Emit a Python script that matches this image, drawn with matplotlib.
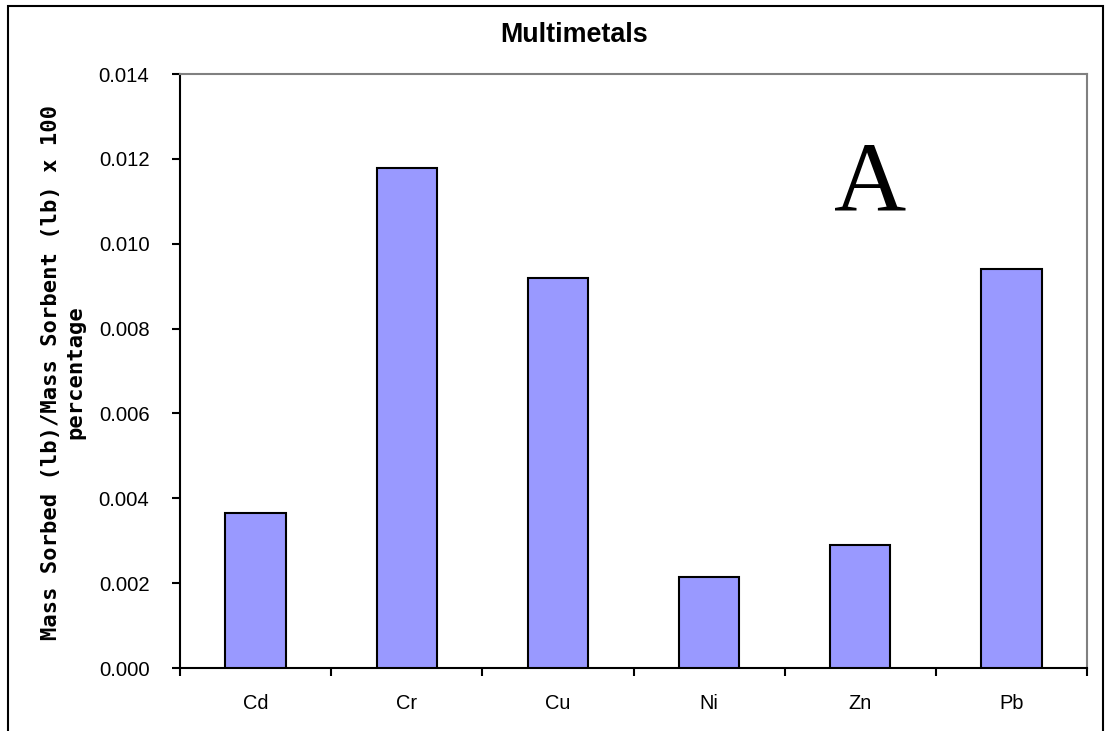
import matplotlib
matplotlib.use("Agg")
import matplotlib.pyplot as plt
from matplotlib.patches import Rectangle
import numpy as np

# valeurs
metals = ["Cd", "Cr", "Cu", "Ni", "Zn", "Pb"]
sorbed = [0.00366, 0.01178, 0.00919, 0.00214, 0.00291, 0.00941]
y_ticks = [0.000, 0.002, 0.004, 0.006, 0.008, 0.010, 0.012, 0.014]

W, H = 1105, 731
fig = plt.figure(figsize=(W / 100, H / 100), dpi=100)
fig.patch.set_facecolor("white")

# cadre exterieur (bas coupe)
fig.patches.append(Rectangle((8 / W, -0.05), (1103 - 8) / W, 1.05 - 6 / H,
                             transform=fig.transFigure, fill=False,
                             edgecolor="black", linewidth=1.5))

ax = fig.add_axes([180 / W, 1 - 668 / H, (1087 - 180) / W, (668 - 74) / H])

x = np.arange(len(metals))
ax.bar(x, sorbed, width=0.4, color="#9999FF", edgecolor="black", linewidth=1.5, zorder=3)

ax.set_xlim(-0.5, len(metals) - 0.5)
ax.set_ylim(0, 0.014)

# ticks x aux limites des categories, labels au centre
ax.set_xticks(np.arange(-0.5, len(metals)), minor=False)
ax.set_xticklabels([])
ax.set_xticks(x, minor=True)
ax.set_xticklabels(metals, minor=True, fontsize=14.4, family="Liberation Sans")
ax.tick_params(axis="x", which="major", direction="out", length=6, width=1.5)
ax.tick_params(axis="x", which="minor", length=0, pad=19)

ax.set_yticks(y_ticks)
ax.set_yticklabels([f"{v:.3f}" for v in y_ticks], fontsize=14.6, family="Liberation Sans")
ax.tick_params(axis="y", direction="out", length=6, width=1.5, pad=16)

for s in ["left", "bottom"]:
    ax.spines[s].set_color("black")
    ax.spines[s].set_linewidth(1.5)
for s in ["top", "right"]:
    ax.spines[s].set_color("#808080")
    ax.spines[s].set_linewidth(1.5)

fig.text(574 / W, 1 - 42 / H, "Multimetals", ha="center", va="baseline",
         fontsize=19.4, fontweight="bold", family="Liberation Sans")

fig.text(63.5 / W, 1 - 372 / H, "Mass Sorbed (lb)/Mass Sorbent (lb) x 100\npercentage",
         rotation=90, ha="center", va="center", multialignment="center",
         fontsize=15.9, fontweight="bold", family="DejaVu Sans Mono", linespacing=1.25)

fig.text(870 / W, 1 - 210 / H, "A", ha="center", va="baseline",
         fontsize=72, family="Liberation Serif")

fig.savefig("out.png", dpi=100)
